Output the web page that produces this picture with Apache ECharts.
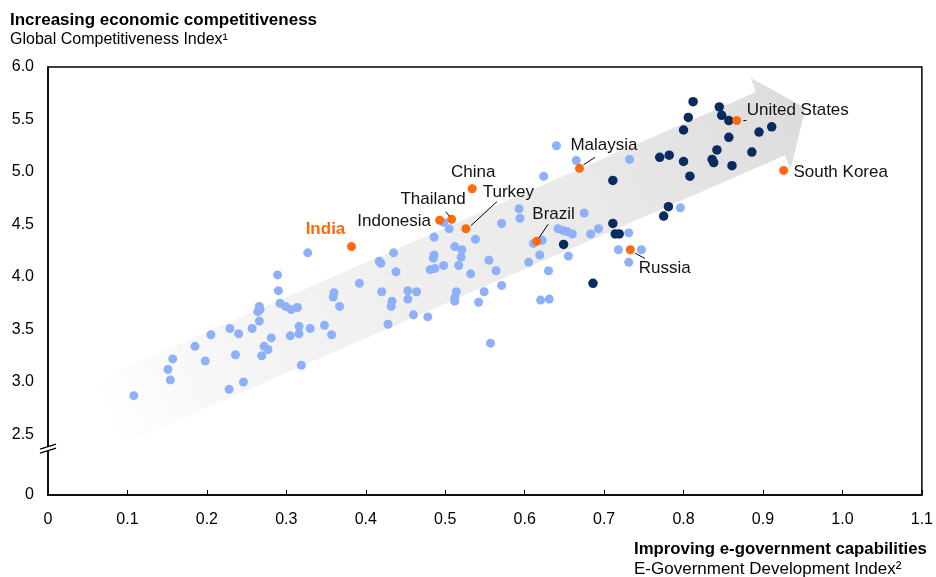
<!DOCTYPE html>
<html><head><meta charset="utf-8">
<script src="https://cdn.jsdelivr.net/npm/echarts@6/dist/echarts.min.js"></script>
<style>html,body{margin:0;padding:0;background:#fff}#c{width:936px;height:577px}</style>
</head><body><div id="c"></div>
<script>
// ---------------- data ----------------
const yTickValues = [2.5, 3.0, 3.5, 4.0, 4.5, 5.0, 5.5, 6.0];
const yZeroLabel = '0';
const xMin = 0, xMax = 1.1, xStep = 0.1;

// light blue: other countries [EGDI, GCI]
const otherCountries = [
  [0.327,4.23],[0.289,4.02],[0.290,3.87],[0.292,3.75],[0.299,3.72],[0.306,3.69],[0.314,3.71],[0.266,3.72],
  [0.267,3.69],[0.264,3.67],[0.266,3.58],[0.360,3.85],[0.359,3.81],[0.367,3.72],[0.348,3.54],[0.357,3.45],
  [0.330,3.51],[0.316,3.53],[0.316,3.46],[0.305,3.44],[0.281,3.42],[0.272,3.34],[0.277,3.31],[0.269,3.25],
  [0.319,3.16],[0.257,3.51],[0.240,3.46],[0.229,3.51],[0.205,3.45],[0.185,3.34],[0.236,3.26],[0.198,3.20],
  [0.157,3.22],[0.151,3.12],[0.154,3.02],[0.246,3.00],[0.228,2.93],[0.108,2.87],
  [0.624,4.96],[0.498,4.52],[0.505,4.46],[0.486,4.38],[0.538,4.36],[0.571,4.51],[0.593,4.65],[0.594,4.56],
  [0.611,4.32],[0.622,4.35],[0.619,4.21],[0.605,4.14],[0.630,4.06],[0.512,4.29],[0.521,4.26],[0.520,4.19],
  [0.486,4.21],[0.485,4.18],[0.435,4.23],[0.417,4.15],[0.419,4.13],[0.438,4.05],[0.481,4.07],[0.487,4.08],
  [0.498,4.11],[0.517,4.11],[0.532,4.03],[0.555,4.16],[0.564,4.06],[0.571,3.92],[0.549,3.86],[0.542,3.76],
  [0.514,3.86],[0.512,3.80],[0.512,3.77],[0.392,3.94],[0.420,3.86],[0.453,3.87],[0.464,3.86],[0.453,3.79],
  [0.433,3.77],[0.432,3.72],[0.460,3.64],[0.478,3.62],[0.428,3.55],[0.620,3.78],[0.631,3.79],[0.557,3.37],
  [0.640,5.25],[0.665,5.11],[0.732,5.12],[0.675,4.61],[0.796,4.66],[0.642,4.46],[0.649,4.44],[0.654,4.43],
  [0.660,4.41],[0.683,4.41],[0.693,4.46],[0.655,4.20],[0.731,4.42],[0.718,4.26],[0.747,4.26],[0.731,4.14]
];

// dark blue: advanced economies
const advancedCountries = [
  [0.711,4.92],[0.770,5.14],[0.782,5.16],[0.800,5.10],[0.808,4.96],[0.800,5.40],[0.781,4.67],[0.775,4.58],
  [0.711,4.51],[0.714,4.41],[0.719,4.41],[0.649,4.31],[0.686,3.94],[0.812,5.67],[0.845,5.62],[0.848,5.54],
  [0.857,5.49],[0.806,5.52],[0.857,5.33],[0.895,5.38],[0.911,5.43],[0.842,5.21],[0.886,5.19],[0.836,5.12],
  [0.838,5.09],[0.861,5.06]
];

// highlighted countries
const highlightNames = ['China','Thailand','Indonesia','Turkey','Brazil','India','Malaysia','Russia','United States','South Korea'];
const highlightEGDI  = [0.534, 0.508, 0.493, 0.526, 0.615, 0.382, 0.669, 0.733, 0.867, 0.926];
const highlightGCI   = [4.84, 4.55, 4.54, 4.46, 4.34, 4.29, 5.035, 4.26, 5.49, 5.015];

// ---------------- layout (not data) ----------------
const labelOffset = {
  'China':[1,-16], 'Thailand':[-18.5,-19.5], 'Indonesia':[-45.5,1.5], 'Turkey':[42.5,-36.5],
  'Brazil':[17,-27], 'India':[-26,-17.5], 'Malaysia':[24.5,-23.5], 'Russia':[34.5,18.5],
  'United States':[61,-10.5], 'South Korea':[57,1.5]
};
const leaderLines = { // pixel offsets from the point centre
  'Thailand':[-2,-3,-6,-7.5], 'Turkey':[5,-3,31,-27], 'Brazil':[2.5,-3.5,11.5,-17],
  'Malaysia':[4,-3.5,15.5,-11], 'Russia':[4.7,3.4,14.5,8.7], 'United States':[6.6,0,9.6,0]
};
const yAxisFloor = 1.924;  // axis value drawn as "0" below the break
const breakAt = 2.385;
const arrowShape = [[0.0527,2.990],[0.891,5.762],[0.8846,5.895],[0.9536,5.610],[0.9348,5.029],[0.9272,5.157],[0.0866,2.381]];

const FONT = '"Liberation Sans", Arial, sans-serif';
const ORANGE = '#FF6A0D', LIGHT = '#8DB0F9', DARK = '#0A2B5F';

const chart = echarts.init(document.getElementById('c'));
const option = {
  animation: false,
  textStyle: { fontFamily: FONT },
  grid: { left: 48, right: 11, top: 67, bottom: 82, show: true, borderColor: '#000', borderWidth: 1.5, backgroundColor: 'transparent' },
  xAxis: {
    type: 'value', min: xMin, max: xMax, interval: xStep,
    axisLine: { lineStyle: { color: '#000', width: 1.5 } },
    axisTick: { inside: true, length: 5, lineStyle: { color: '#000', width: 1 } },
    axisLabel: { color: '#000', fontSize: 16, fontFamily: FONT, margin: 17,
      formatter: v => Math.abs(v) < 1e-9 ? '0' : v.toFixed(1) },
    splitLine: { show: false }
  },
  yAxis: {
    type: 'value', min: yAxisFloor, max: 6,
    axisLine: { show: true, lineStyle: { color: '#000', width: 1.5 } },
    axisTick: { show: false },
    axisLabel: { color: '#000', fontSize: 16, fontFamily: FONT, margin: 14,
      customValues: [yAxisFloor].concat(yTickValues),
      formatter: v => v < 2 ? yZeroLabel : v.toFixed(1) },
    splitLine: { show: false }
  },
  series: [
    { type: 'scatter', data: otherCountries, symbolSize: 9, itemStyle: { color: LIGHT, opacity: 1 }, z: 3, silent: true },
    { type: 'scatter', data: advancedCountries, symbolSize: 9.5, itemStyle: { color: DARK, opacity: 1 }, z: 4, silent: true },
    { type: 'scatter', symbolSize: 9, itemStyle: { color: ORANGE, opacity: 1 }, z: 5, silent: true,
      label: { show: true, position: 'inside', formatter: '{b}', color: '#111', fontSize: 17, fontFamily: FONT },
      data: highlightNames.map((n, i) => ({
        name: n, value: [highlightEGDI[i], highlightGCI[i]],
        label: n === 'India'
          ? { offset: labelOffset[n], color: ORANGE, fontWeight: 'bold' }
          : { offset: labelOffset[n] }
      }))
    }
  ]
};
chart.setOption(option);

const px = p => chart.convertToPixel({ gridIndex: 0 }, p);
const g = [];
// arrow
const pts = arrowShape.map(px);
const tailMid = [(pts[0][0] + pts[6][0]) / 2, (pts[0][1] + pts[6][1]) / 2];
const tip = pts[3];
g.push({
  type: 'polygon', z: -10, silent: true,
  shape: { points: pts },
  style: { fill: new echarts.graphic.LinearGradient(tailMid[0], tailMid[1], tip[0], tip[1], [
    { offset: 0, color: 'rgba(240,240,240,0)' },
    { offset: 0.25, color: '#f3f3f3' },
    { offset: 0.7, color: '#e9e9e9' },
    { offset: 1, color: '#dcdcdc' }
  ], true) }
});
// leader lines
highlightNames.forEach((n, i) => {
  const l = leaderLines[n]; if (!l) return;
  const c = px([highlightEGDI[i], highlightGCI[i]]);
  g.push({ type: 'line', z: 50, silent: true,
    shape: { x1: c[0] + l[0], y1: c[1] + l[1], x2: c[0] + l[2], y2: c[1] + l[3] },
    style: { stroke: '#000', lineWidth: 1 } });
});
// axis break mark
const b = px([0, breakAt]);
g.push({ type: 'polygon', z: 60, silent: true,
  shape: { points: [[b[0]-8, b[1]+2.5],[b[0]+8, b[1]-2.5],[b[0]+8, b[1]+1.5],[b[0]-8, b[1]+6.5]] },
  style: { fill: '#fff' } });
g.push({ type: 'line', z: 61, silent: true, shape: { x1: b[0]-8, y1: b[1]+2.5, x2: b[0]+8, y2: b[1]-2.5 }, style: { stroke: '#000', lineWidth: 1.2 } });
g.push({ type: 'line', z: 61, silent: true, shape: { x1: b[0]-8, y1: b[1]+6.5, x2: b[0]+8, y2: b[1]+1.5 }, style: { stroke: '#000', lineWidth: 1.2 } });
// titles
g.push({ type: 'text', z: 70, silent: true, style: { text: 'Increasing economic competitiveness', x: 10, y: 20, textVerticalAlign: 'middle', font: 'bold 17px ' + FONT, fill: '#000' } });
g.push({ type: 'text', z: 70, silent: true, style: { text: 'Global Competitiveness Index¹', x: 10, y: 40, textVerticalAlign: 'middle', font: '16px ' + FONT, fill: '#000' } });
g.push({ type: 'text', z: 70, silent: true, style: { text: 'Improving e-government capabilities', x: 634, y: 549, textAlign: 'left', textVerticalAlign: 'middle', font: 'bold 16.8px ' + FONT, fill: '#000' } });
g.push({ type: 'text', z: 70, silent: true, style: { text: 'E-Government Development Index²', x: 634, y: 569, textAlign: 'left', textVerticalAlign: 'middle', font: '17px ' + FONT, fill: '#000' } });
chart.setOption({ graphic: g });
</script></body></html>
